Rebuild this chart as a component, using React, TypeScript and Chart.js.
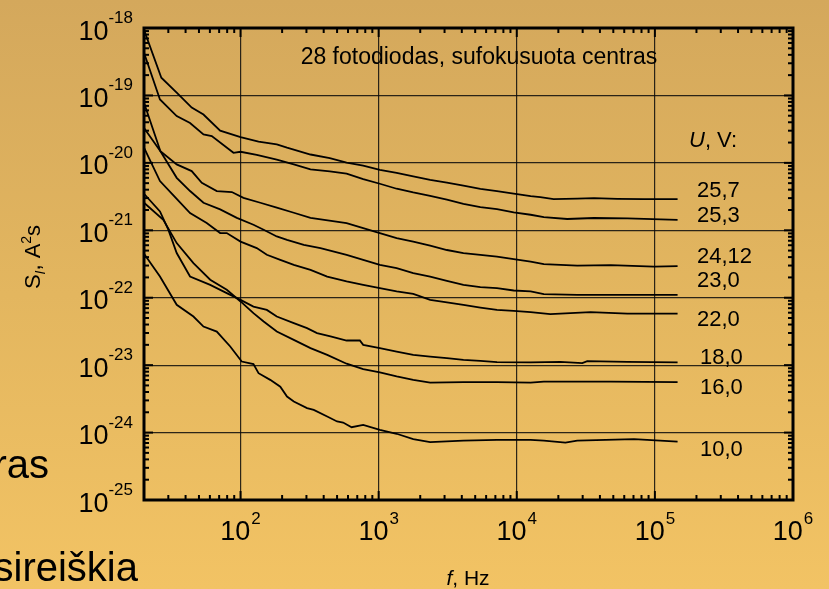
import React, { useEffect, useRef } from "react";
import { Chart, registerables } from "chart.js";
Chart.register(...registerables);

// ---- data (frequency in Hz, spectral density in A^2 s) ----
const U257_f = [20, 26.7, 34.5, 44.3, 53.9, 71.2, 100, 135, 183, 217, 321, 443, 586, 773, 1020, 1350, 1780, 2360, 3120, 4110, 5450, 7190, 9500, 12600, 14800, 18500, 27400, 36200, 53500, 83500, 146000];
const U257_S = [9.4e-19, 1.83e-19, 1.1e-19, 6.6e-20, 5.2e-20, 3.0e-20, 2.4e-20, 2.06e-20, 1.88e-20, 1.68e-20, 1.33e-20, 1.18e-20, 1.01e-20, 9.1e-21, 7.9e-21, 7.1e-21, 6.3e-21, 5.6e-21, 5.1e-21, 4.6e-21, 4.1e-21, 3.8e-21, 3.5e-21, 3.2e-21, 3.1e-21, 2.9e-21, 2.95e-21, 3.0e-21, 2.93e-21, 2.9e-21, 2.9e-21];

const U253_f = [20, 26.1, 34.5, 43.1, 53.9, 61.9, 88.9, 100, 131, 183, 243, 321, 443, 586, 773, 1020, 1350, 1780, 2360, 3120, 4110, 5450, 7190, 9500, 12600, 15700, 23200, 36200, 63200, 146000];
const U253_S = [4.3e-19, 8.7e-20, 4.95e-20, 3.9e-20, 2.64e-20, 2.5e-20, 1.41e-20, 1.46e-20, 1.31e-20, 1.12e-20, 9.5e-21, 8.0e-21, 7.45e-21, 6.9e-21, 5.75e-21, 4.9e-21, 4.13e-21, 3.64e-21, 3.25e-21, 2.84e-21, 2.47e-21, 2.21e-21, 2.06e-21, 1.84e-21, 1.7e-21, 1.57e-21, 1.47e-21, 1.52e-21, 1.5e-21, 1.43e-21];

const U2412_f = [20, 26.3, 34.5, 44.3, 52.4, 67.3, 86.5, 105, 139, 183, 243, 321, 586, 773, 1020, 1350, 1780, 2360, 3120, 4110, 5450, 7190, 9500, 12600, 15700, 27400, 47900, 98600, 146000];
const U2412_S = [7.8e-20, 1.49e-20, 9.5e-21, 7.55e-21, 5.07e-21, 3.82e-21, 3.69e-21, 3.03e-21, 2.56e-21, 2.16e-21, 1.82e-21, 1.53e-21, 1.28e-21, 1.08e-21, 9.1e-22, 7.66e-22, 6.8e-22, 5.9e-22, 5.1e-22, 4.6e-22, 4.33e-22, 4.08e-22, 3.74e-22, 3.44e-22, 3.15e-22, 3.0e-22, 3.05e-22, 2.9e-22, 2.95e-22];

const U230_f = [20, 26.3, 34.5, 43.1, 53.9, 71.2, 94, 124, 147, 183, 217, 287, 379, 586, 773, 1020, 1350, 1780, 2360, 3120, 4110, 5450, 7190, 9500, 12600, 15700, 27400, 47900, 146000];
const U230_S = [3.3e-20, 1.49e-20, 6.0e-21, 3.82e-21, 2.56e-21, 2.04e-21, 1.53e-21, 1.21e-21, 1.02e-21, 8.1e-22, 7.2e-22, 6.1e-22, 5.44e-22, 4.33e-22, 3.65e-22, 3.08e-22, 2.75e-22, 2.32e-22, 2.06e-22, 1.78e-22, 1.55e-22, 1.44e-22, 1.39e-22, 1.28e-22, 1.24e-22, 1.13e-22, 1.1e-22, 1.1e-22, 1.1e-22];

const U220_f = [20, 26.1, 34.5, 43.1, 56.9, 71.2, 79.5, 100, 131, 155, 194, 243, 321, 424, 586, 773, 1020, 1350, 1780, 2360, 3120, 4110, 5450, 7190, 9500, 12600, 17500, 34200, 63200, 146000];
const U220_S = [1.68e-20, 5.37e-21, 2.93e-21, 1.8e-21, 1.28e-21, 9.1e-22, 9.1e-22, 6.8e-22, 5.44e-22, 4.33e-22, 3.65e-22, 3.08e-22, 2.59e-22, 2.06e-22, 1.74e-22, 1.55e-22, 1.39e-22, 1.24e-22, 1.14e-22, 9.3e-23, 8.55e-23, 7.85e-23, 7.15e-23, 6.6e-23, 6.4e-23, 6.1e-23, 5.7e-23, 6.1e-23, 5.8e-23, 5.8e-23];

const U180_f = [20, 26.1, 30, 34.5, 43.1, 60.3, 79.5, 100, 124, 155, 183, 243, 303, 358, 448, 586, 731, 773, 1020, 1350, 1780, 2360, 3120, 4110, 5450, 7190, 12600, 20700, 29800, 32400, 63200, 146000];
const U180_S = [3.48e-21, 1.9e-21, 1.02e-21, 4.6e-22, 2.06e-22, 1.55e-22, 1.17e-22, 9.3e-23, 7.4e-23, 6.6e-23, 5.26e-23, 4.2e-23, 3.54e-23, 2.99e-23, 2.66e-23, 2.32e-23, 2.32e-23, 2.0e-23, 1.79e-23, 1.59e-23, 1.42e-23, 1.34e-23, 1.27e-23, 1.2e-23, 1.16e-23, 1.11e-23, 1.1e-23, 1.12e-23, 1.07e-23, 1.15e-23, 1.12e-23, 1.1e-23];

const U160_f = [20, 27.6, 34.5, 45.6, 60.3, 79.5, 100, 124, 147, 183, 243, 321, 424, 586, 773, 1020, 1350, 1780, 2360, 4110, 7190, 12600, 15700, 47900, 146000];
const U160_S = [2.56e-21, 1.43e-21, 6.46e-22, 3.26e-22, 1.85e-22, 1.31e-22, 8.8e-23, 5.9e-23, 4.44e-23, 3.15e-23, 2.37e-23, 1.79e-23, 1.42e-23, 1.05e-23, 8.7e-24, 7.8e-24, 6.8e-24, 6.05e-24, 5.5e-24, 5.6e-24, 5.6e-24, 5.5e-24, 5.7e-24, 5.7e-24, 5.6e-24];

const U100_f = [20, 26.1, 34.5, 45.6, 53.9, 67.3, 84.2, 102, 124, 135, 164, 194, 217, 243, 303, 339, 424, 500, 553, 637, 773, 1020, 1350, 1780, 2360, 4110, 7190, 12600, 15700, 22500, 27400, 70600, 146000];
const U100_S = [4.48e-22, 2.06e-22, 7.85e-23, 5.26e-23, 3.74e-23, 3.15e-23, 1.89e-23, 1.13e-23, 1.035e-23, 7.6e-24, 6.05e-24, 4.8e-24, 3.42e-24, 2.88e-24, 2.3e-24, 2.17e-24, 1.73e-24, 1.46e-24, 1.41e-24, 1.2e-24, 1.3e-24, 1.1e-24, 9.6e-25, 8.0e-25, 7.2e-25, 7.6e-25, 7.8e-25, 7.8e-25, 7.6e-25, 7.1e-25, 7.6e-25, 8.0e-25, 7.35e-25];

const SERIES_LABELS = ["25,7", "25,3", "24,12", "23,0", "22,0", "18,0", "16,0", "10,0"];
const X_DECADES = [2, 3, 4, 5, 6];
const Y_DECADES = [-25, -24, -23, -22, -21, -20, -19, -18];
const TITLE_TEXT = "28 fotodiodas, sufokusuota centras";

const SERIES = [
  [U257_f, U257_S], [U253_f, U253_S], [U2412_f, U2412_S], [U230_f, U230_S],
  [U220_f, U220_S], [U180_f, U180_S], [U160_f, U160_S], [U100_f, U100_S],
];

const FONT = '"Liberation Sans", Arial, Helvetica, sans-serif';

function drawPieces(ctx: CanvasRenderingContext2D, pieces: any[], x: number, y: number, align: string) {
  let total = 0;
  for (const p of pieces) { ctx.font = p.font; total += ctx.measureText(p.t).width; }
  let cx = align === "center" ? x - total / 2 : align === "right" ? x - total : x;
  for (const p of pieces) {
    ctx.font = p.font;
    ctx.textAlign = "left";
    ctx.fillText(p.t, cx, y + (p.dy || 0));
    cx += ctx.measureText(p.t).width;
  }
}

const decorPlugin = {
  id: "decor",
  afterDraw(chart: any) {
    const { ctx, chartArea: ca, scales } = chart;
    const xs = scales.x, ys = scales.y;
    ctx.save();
    ctx.strokeStyle = "#000";
    ctx.fillStyle = "#000";
    ctx.lineCap = "butt";
    const seg = (x1: number, y1: number, x2: number, y2: number) => {
      ctx.beginPath(); ctx.moveTo(x1, y1); ctx.lineTo(x2, y2); ctx.stroke();
    };
    // inward tick marks
    ctx.lineWidth = 2;
    for (let e = 1; e <= 6; e++) {
      for (let m = 1; m <= 9; m++) {
        const v = m * Math.pow(10, e);
        if (v < 20 || v > 1e6) continue;
        const px = xs.getPixelForValue(v);
        const len = m === 1 ? 9 : 5;
        seg(px, ca.bottom, px, ca.bottom - len);
        seg(px, ca.top, px, ca.top + len);
      }
    }
    for (let e = -25; e <= -18; e++) {
      for (let m = 1; m <= 9; m++) {
        const v = m * Math.pow(10, e);
        if (v > 1.0001e-18) continue;
        const py = ys.getPixelForValue(v);
        const len = m === 1 ? 9 : 5;
        seg(ca.left, py, ca.left + len, py);
        seg(ca.right, py, ca.right - len, py);
      }
    }
    // frame
    ctx.lineWidth = 3;
    ctx.strokeRect(ca.left, ca.top, ca.right - ca.left, ca.bottom - ca.top);

    ctx.textBaseline = "alphabetic";
    // y tick labels
    for (const e of Y_DECADES) {
      const py = ys.getPixelForValue(Math.pow(10, e));
      ctx.font = `17px ${FONT}`;
      const sup = String(e);
      const sw = ctx.measureText(sup).width;
      ctx.textAlign = "right";
      ctx.fillText(sup, 133, py - 5);
      ctx.font = `27px ${FONT}`;
      ctx.fillText("10", 133 - sw, py + 11.5);
    }
    // x tick labels
    for (const e of X_DECADES) {
      const px = xs.getPixelForValue(Math.pow(10, e));
      ctx.font = `27px ${FONT}`;
      const w1 = ctx.measureText("10").width;
      ctx.font = `17px ${FONT}`;
      const w2 = ctx.measureText(String(e)).width;
      const x0 = px - (w1 + w2 + 1) / 2;
      ctx.textAlign = "left";
      ctx.font = `27px ${FONT}`;
      ctx.fillText("10", x0, 540);
      ctx.font = `17px ${FONT}`;
      ctx.fillText(String(e), x0 + w1 + 1, 524);
    }
    // axis titles
    drawPieces(ctx, [
      { t: "f", font: `italic 21px ${FONT}` },
      { t: ", Hz", font: `21px ${FONT}` },
    ], 468, 585, "center");
    ctx.save();
    ctx.translate(40, 257);
    ctx.rotate(-Math.PI / 2);
    drawPieces(ctx, [
      { t: "S", font: `22px ${FONT}` },
      { t: "I", font: `italic 14px ${FONT}`, dy: 5 },
      { t: ", A", font: `22px ${FONT}` },
      { t: "2", font: `14px ${FONT}`, dy: -9 },
      { t: "s", font: `22px ${FONT}` },
    ], 0, 0, "center");
    ctx.restore();

    // annotation
    ctx.font = `23px ${FONT}`;
    ctx.textAlign = "center";
    ctx.fillText(TITLE_TEXT, 479, 64);
    drawPieces(ctx, [
      { t: "U", font: `italic 22px ${FONT}` },
      { t: ", V:", font: `22px ${FONT}` },
    ], 689, 147, "left");
    const labelY = [197, 222, 263, 287, 326, 364, 394, 456];
    const labelX = [697, 697, 697, 697, 697, 700, 700, 700];
    ctx.font = `22px ${FONT}`;
    ctx.textAlign = "left";
    SERIES_LABELS.forEach((t, i) => ctx.fillText(t, labelX[i], labelY[i]));

    // slide text fragments
    ctx.font = `40px ${FONT}`;
    ctx.textAlign = "right";
    ctx.fillText("ras", 49, 478);
    ctx.fillText("sireiškia", 138, 581);
    ctx.restore();
  },
};

export default function App() {
  const ref = useRef<HTMLCanvasElement | null>(null);
  useEffect(() => {
    const canvas = ref.current;
    if (!canvas) return;
    const gridColor = "rgba(10,10,10,0.85)";
    const chart = new Chart(canvas, {
      type: "scatter",
      data: {
        datasets: SERIES.map(([f, s], i) => ({
          label: SERIES_LABELS[i],
          data: f.map((x: number, j: number) => ({ x, y: s[j] })),
          showLine: true,
          borderColor: "#000",
          backgroundColor: "#000",
          borderWidth: 1.8,
          pointRadius: 0,
          fill: false,
          tension: 0,
        })),
      },
      options: {
        animation: false,
        responsive: false,
        devicePixelRatio: 1,
        layout: { padding: { top: 28, right: 36, left: 0, bottom: 0 } },
        plugins: { legend: { display: false }, tooltip: { enabled: false } },
        scales: {
          x: {
            type: "logarithmic",
            position: "bottom",
            min: 20,
            max: 1e6,
            afterBuildTicks: (s: any) => { s.ticks = [1e2, 1e3, 1e4, 1e5].map((v) => ({ value: v })); },
            afterFit: (s: any) => { s.height = 89; },
            ticks: { display: false },
            grid: { drawTicks: false, color: gridColor, lineWidth: 1.2 },
            border: { display: false },
          },
          y: {
            type: "logarithmic",
            position: "left",
            min: 1e-25,
            max: 1e-18,
            afterBuildTicks: (s: any) => { s.ticks = [1e-24, 1e-23, 1e-22, 1e-21, 1e-20, 1e-19].map((v) => ({ value: v })); },
            afterFit: (s: any) => { s.width = 144; },
            ticks: { display: false },
            grid: { drawTicks: false, color: gridColor, lineWidth: 1.2 },
            border: { display: false },
          },
        },
      } as any,
      plugins: [decorPlugin],
    });
    return () => chart.destroy();
  }, []);
  return (
    <div
      style={{
        position: "absolute",
        left: 0,
        top: 0,
        width: 829,
        height: 589,
        overflow: "hidden",
        background: "linear-gradient(to bottom, #D4A85C 0%, #E3B65F 50%, #F2C364 100%)",
      }}
    >
      <canvas ref={ref} width={829} height={589} style={{ display: "block", width: 829, height: 589 }} />
    </div>
  );
}
